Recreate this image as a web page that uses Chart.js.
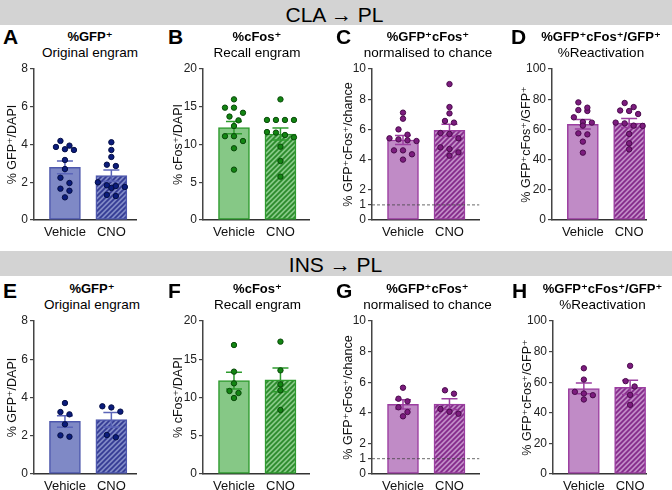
<!DOCTYPE html>
<html>
<head>
<meta charset="utf-8">
<script src="https://cdn.jsdelivr.net/npm/chart.js@4.4.1/dist/chart.umd.min.js"></script>
<style>
body { margin:0; width:672px; height:490px; overflow:hidden; background:#fff; position:relative;
       font-family:"Liberation Sans", Arial, "DejaVu Sans", sans-serif; color:#000; }
.band { position:absolute; left:0; width:672px; height:25px; background:#d3d3d3; }
.t { position:absolute; white-space:nowrap; line-height:1.117; }
canvas { position:absolute; }
</style>
</head>
<body>
<div class="band" style="top:0"></div>
<div class="band" style="top:251px"></div>
<script>
const categories = ['Vehicle', 'CNO'];

// CLA -> PL
const claGfpVeh = [3.94, 4.19, 3.75, 3.71, 3.87, 3.18, 2.70, 2.24, 1.96, 1.66, 1.55, 1.20];
const claGfpCno = [4.12, 3.71, 3.34, 2.86, 2.93, 2.00, 1.75, 1.70, 1.80, 1.84, 1.27, 1.33];
const claGfpMean = [2.79, 2.35];
const claGfpSem = [0.34, 0.30];

const claFosVeh = [15.98, 14.88, 14.88, 14.2, 13.7, 13.2, 12.45, 11.1, 11.1, 10.46, 9.5, 6.67];
const claFosCno = [15.98, 13.25, 13.25, 13.25, 13.25, 11.65, 11.57, 11.26, 10.95, 9.71, 7.81, 5.74];
const claFosMean = [12.23, 11.39];
const claFosSem = [0.8, 0.8];

const claChanceVeh = [7.11, 6.71, 6.0, 5.34, 5.41, 5.23, 5.65, 5.28, 4.61, 4.61, 4.35, 4.0];
const claChanceCno = [9.0, 7.48, 7.06, 6.56, 6.45, 5.7, 5.76, 5.41, 4.70, 4.81, 4.48, 4.26];
const claChanceMean = [5.30, 5.94];
const claChanceSem = [0.3, 0.4];

const claReactVeh = [77.9, 72.2, 72.8, 74.4, 68.0, 64.5, 64.9, 62.5, 57.4, 56.7, 51.9, 44.6];
const claReactCno = [72.5, 74.8, 77.5, 72.2, 70.2, 64.0, 62.3, 64.5, 62.5, 57.0, 50.8, 46.8];
const claReactMean = [63.4, 64.2];
const claReactSem = [3.2, 3.0];

// INS -> PL
const insGfpVeh = [3.71, 3.24, 3.12, 2.60, 1.95, 2.02];
const insGfpCno = [3.54, 3.48, 3.26, 1.92, 2.04];
const insGfpMean = [2.75, 2.84];
const insGfpSem = [0.3, 0.38];

const insFosVeh = [16.86, 13.38, 11.85, 10.85, 10.59, 9.93];
const insFosCno = [17.3, 13.55, 11.72, 10.94, 8.37];
const insFosMean = [12.2, 12.3];
const insFosSem = [1.1, 1.55];

const insChanceVeh = [5.64, 4.92, 4.75, 4.36, 4.05, 3.77];
const insChanceCno = [5.47, 5.25, 4.25, 3.94, 4.07];
const insChanceMean = [4.55, 4.57];
const insChanceSem = [0.3, 0.35];

const insReactVeh = [69.1, 61.7, 53.7, 52.6, 51.5, 48.7];
const insReactCno = [70.7, 60.7, 57.2, 51.7, 45.2];
const insReactMean = [55.9, 56.6];
const insReactSem = [3.5, 4.7];

const gfpTicks = [0, 2, 4, 6, 8];
const fosTicks = [0, 5, 10, 15, 20];
const chanceTicks = [0, 1, 2, 4, 6, 8, 10];
const reactTicks = [0, 20, 40, 60, 80, 100];
const chanceLevel = 1;

const FAMILY = "'Liberation Sans', Arial, 'DejaVu Sans', sans-serif";
const BLUE = {fill:'#7f89c6', edge:'#4e58ad', stripe:'#343b94', dot:'#0b1c7c', dotEdge:'#050f45', err:'#5b65b8'};
const GREEN = {fill:'#86c886', edge:'#2e9b2e', stripe:'#2a8a2a', dot:'#128512', dotEdge:'#0a4a0a', err:'#2e9b2e'};
const PURPLE = {fill:'#c08bc6', edge:'#9b3ea0', stripe:'#842a8a', dot:'#7c1c7e', dotEdge:'#4a0b4c', err:'#9b3ea0'};

const rows = [
  {top:69, bottom:220, letterBase:44.5, t1:41.7, t2:57.3, band:'CLA → PL', bandBase:22, bandX:334.5},
  {top:321, bottom:474, letterBase:298, t1:293.5, t2:308.8, band:'INS → PL', bandBase:271.7, bandX:335.5}
];

const panels = [
  {row:0, letter:'A', lx:3, title:'%GFP⁺', sub:'Original engram', yTitle:'% GFP⁺/DAPI', veh:claGfpVeh, cno:claGfpCno, mean:claGfpMean, sem:claGfpSem, ticks:gfpTicks, col:BLUE, ax:34, right:140, gap:21, tx:90},
  {row:0, letter:'B', lx:168, title:'%cFos⁺', sub:'Recall engram', yTitle:'% cFos⁺/DAPI', veh:claFosVeh, cno:claFosCno, mean:claFosMean, sem:claFosSem, ticks:fosTicks, col:GREEN, ax:203, right:313, gap:24, tx:257},
  {row:0, letter:'C', lx:336, title:'%GFP⁺cFos⁺', sub:'normalised to chance', yTitle:'% GFP⁺cFos⁺/chance', veh:claChanceVeh, cno:claChanceCno, mean:claChanceMean, sem:claChanceSem, ticks:chanceTicks, col:PURPLE, ax:372, right:483, gap:23, tx:428, chance:true},
  {row:0, letter:'D', lx:511, title:'%GFP⁺cFos⁺/GFP⁺', sub:'%Reactivation', yTitle:'% GFP⁺cFos⁺/GFP⁺', veh:claReactVeh, cno:claReactCno, mean:claReactMean, sem:claReactSem, ticks:reactTicks, col:PURPLE, ax:552, right:650, gap:25, tx:601},
  {row:1, letter:'E', lx:3, title:'%GFP⁺', sub:'Original engram', yTitle:'% GFP⁺/DAPI', veh:insGfpVeh, cno:insGfpCno, mean:insGfpMean, sem:insGfpSem, ticks:gfpTicks, col:BLUE, ax:34, right:140, gap:21, tx:92},
  {row:1, letter:'F', lx:168, title:'%cFos⁺', sub:'Recall engram', yTitle:'% cFos⁺/DAPI', veh:insFosVeh, cno:insFosCno, mean:insFosMean, sem:insFosSem, ticks:fosTicks, col:GREEN, ax:203, right:313, gap:24, tx:257.5},
  {row:1, letter:'G', lx:336, title:'%GFP⁺cFos⁺', sub:'normalised to chance', yTitle:'% GFP⁺cFos⁺/chance', veh:insChanceVeh, cno:insChanceCno, mean:insChanceMean, sem:insChanceSem, ticks:chanceTicks, col:PURPLE, ax:372, right:483, gap:23, tx:427.5, chance:true},
  {row:1, letter:'H', lx:512, title:'%GFP⁺cFos⁺/GFP⁺', sub:'%Reactivation', yTitle:'% GFP⁺cFos⁺/GFP⁺', veh:insReactVeh, cno:insReactCno, mean:insReactMean, sem:insReactSem, ticks:reactTicks, col:PURPLE, ax:553, right:650, gap:25, tx:602.5}
];

function text(txt, x, base, size, weight, center) {
  const d = document.createElement('div');
  d.className = 't';
  d.textContent = txt;
  d.style.fontSize = size + 'px';
  d.style.fontWeight = weight;
  d.style.top = (base - 0.905 * size) + 'px';
  if (center) {
    d.style.left = (x - 150) + 'px';
    d.style.width = '300px';
    d.style.textAlign = 'center';
  } else {
    d.style.left = x + 'px';
  }
  document.body.appendChild(d);
}

function hatch(bg, fg) {
  const s = 5, c = document.createElement('canvas');
  c.width = c.height = s;
  const g = c.getContext('2d');
  g.fillStyle = bg;
  g.fillRect(0, 0, s, s);
  g.strokeStyle = fg;
  g.lineWidth = 1.7;
  g.beginPath();
  g.moveTo(0, s); g.lineTo(s, 0);
  g.moveTo(-s, s); g.lineTo(s, -s);
  g.moveTo(0, 2 * s); g.lineTo(2 * s, 0);
  g.stroke();
  return g.createPattern(c, 'repeat');
}

// Prism-like scatter: points at similar heights share a row, spread around the group centre
function swarm(vals, toPx, step, centre) {
  const order = vals.map((v, i) => i).sort((a, b) => vals[b] - vals[a]);
  const xs = new Array(vals.length);
  let row = [];
  const flush = () => {
    row.forEach((k, j) => { xs[k] = centre + (j - (row.length - 1) / 2) * step; });
    row = [];
  };
  order.forEach(k => {
    if (row.length && Math.abs(toPx(vals[k]) - toPx(vals[row[0]])) > 5.5) flush();
    row.push(k);
  });
  flush();
  return vals.map((v, i) => ({x: xs[i], y: v}));
}

rows.forEach(r => text(r.band, r.bandX, r.bandBase, 21, 'normal', true));

panels.forEach(p => {
  const r = rows[p.row];
  text(p.letter, p.lx, r.letterBase, 21, 'bold', false);
  text(p.title, p.tx, r.t1, 13, 'bold', true);
  text(p.sub, p.tx, r.t2, 13.5, 'normal', true);

  const padL = 45, padT = 10, padB = 24, padR = 6;
  const cv = document.createElement('canvas');
  cv.width = p.right - p.ax + padL + padR;
  cv.height = r.bottom - r.top + padT + padB;
  cv.style.left = (p.ax - padL) + 'px';
  cv.style.top = (r.top - padT) + 'px';
  document.body.appendChild(cv);

  const unit = 48;
  const xmin = 1 - 32 / unit;
  const xmax = 2 + (p.right - p.ax - 80) / unit;
  const c = p.col;

  const datasets = [];
  [p.veh, p.cno].forEach((vals, i) => datasets.push({
    type: 'scatter', data: vals.map(v => ({x: i + 1, y: v})),
    pointRadius: 2.7, pointBorderWidth: 1,
    pointBackgroundColor: c.dot, pointBorderColor: c.dotEdge, order: 0
  }));
  p.mean.forEach((m, i) => datasets.push({
    type: 'line', data: [{x: i + 1, y: m - p.sem[i]}, {x: i + 1, y: m + p.sem[i]}],
    borderColor: c.err, borderWidth: 1.5, pointStyle: 'line', pointRadius: 8,
    pointBorderWidth: 1.5, pointBorderColor: c.err, order: 1
  }));
  if (p.chance) datasets.push({
    type: 'line', data: [{x: xmin, y: chanceLevel}, {x: xmax, y: chanceLevel}],
    borderColor: '#444', borderWidth: 0.8, borderDash: [3, 2], pointRadius: 0, order: 1
  });
  datasets.push({
    type: 'bar', data: p.mean.map((m, i) => ({x: i + 1, y: m})),
    backgroundColor: [c.fill, hatch(c.fill, c.stripe)], borderColor: c.edge,
    borderWidth: 1.5, borderSkipped: false, barThickness: 31, order: 2
  });

  const top = p.ticks[p.ticks.length - 1];
  const chart = new Chart(cv, {
    type: 'bar',
    data: {datasets},
    options: {
      responsive: false, animation: false, devicePixelRatio: 1,
      layout: {padding: {top: padT, left: 0, right: padR, bottom: 0}},
      plugins: {legend: {display: false}, tooltip: {enabled: false}},
      scales: {
        x: {
          type: 'linear', min: xmin, max: xmax, offset: false, bounds: 'data',
          afterBuildTicks: s => { s.ticks = [{value: 1}, {value: 2}]; },
          afterFit: s => { s.height = padB; },
          grid: {display: false, drawTicks: false, offset: false},
          border: {display: true, color: '#333', width: 1.5},
          ticks: {padding: 5, color: '#111', maxRotation: 0, autoSkip: false,
                  font: {size: 13, family: FAMILY}, callback: (v, i) => categories[i]}
        },
        y: {
          min: 0, max: top,
          afterBuildTicks: s => { s.ticks = p.ticks.map(v => ({value: v})); },
          afterFit: s => { s.width = padL; },
          grid: {display: true, drawOnChartArea: false, drawTicks: true, tickLength: 4, color: '#444', lineWidth: 1.2},
          border: {display: true, color: '#444', width: 1.5},
          ticks: {padding: 2, color: '#222', font: {size: 12, family: FAMILY}},
          title: {display: true, text: p.yTitle, color: '#111', font: {size: 12.5, family: FAMILY},
                  padding: {top: padL - p.gap - 7.5, bottom: 0}}
        }
      }
    }
  });

  // widen the canvas if the layout took extra room on the right, so the plot ends where it should
  const wantRight = p.right - p.ax + padL;
  const diff = Math.round(wantRight - chart.chartArea.right);
  if (diff !== 0) chart.resize(cv.width + diff, cv.height);

  const xs = chart.scales.x, ys = chart.scales.y;
  const pxUnit = xs.getPixelForValue(2) - xs.getPixelForValue(1);
  [p.veh, p.cno].forEach((vals, i) => {
    chart.data.datasets[i].data = swarm(vals, v => ys.getPixelForValue(v), 9 / pxUnit, i + 1);
  });
  chart.update('none');
});
</script>
</body>
</html>
